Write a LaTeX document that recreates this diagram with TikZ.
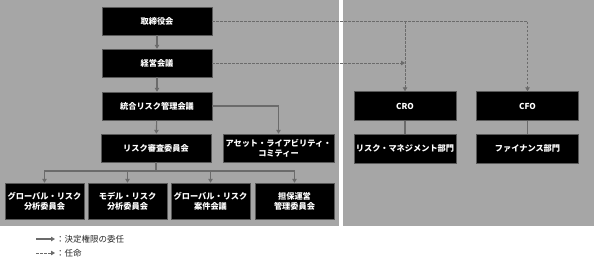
\documentclass[tikz,border=0pt]{standalone}
\usepackage{fontspec}
\setmainfont{Noto Sans CJK JP}
\usetikzlibrary{arrows.meta, positioning}
\definecolor{panelgrey}{HTML}{A6A6A6}
\definecolor{linegrey}{HTML}{6B6B6B}
\definecolor{edgegrey}{HTML}{595959}
\tikzset{
  box/.style={rectangle, draw=edgegrey, fill=black, text=white, align=center,
    minimum width=110pt, minimum height=28pt, inner sep=1pt,
    font=\fontsize{8.2}{10}\selectfont\bfseries},
  boxs/.style={box, minimum width=79pt, minimum height=36pt},
  boxr/.style={box, minimum width=102pt, minimum height=29pt},
  arrow/.style={-{Triangle[length=4pt, width=4.5pt]}, line width=1.1pt, linegrey},
  arrowd/.style={arrow, line width=0.8pt, dash pattern=on 2.5pt off 1.5pt},
  link/.style={line width=1.1pt, linegrey},
  legend/.style={font=\fontsize{8.5}{10}\selectfont, text=black!85, inner sep=0pt},
}
\begin{document}
\begin{tikzpicture}[x=1pt, y=-1pt]
\useasboundingbox (0,0) rectangle (596,265);
% panels
\fill[panelgrey] (0,0) rectangle (339,226);
\fill[panelgrey] (343,0) rectangle (594,226);
% left side
\node[box] (board) at (157,21) {取締役会};
\node[box] (mgmt) at (157,63) {経営会議};
\node[box] (erm) at (157,106) {統合リスク管理会議};
\node[box] (riskcom) at (156,148) {リスク審査委員会};
\node[box, minimum width=111pt] (alco) at (278.5,148) {アセット・ライアビリティ・\\コミティー};
\node[boxs] (grc) at (44.5,201) {グローバル・リスク\\分析委員会};
\node[boxs] (mrc) at (127.5,201) {モデル・リスク\\分析委員会};
\node[boxs] (gcc) at (210.5,201) {グローバル・リスク\\案件会議};
\node[boxs] (cmc) at (294.5,201) {担保運営\\管理委員会};
% right side
\node[boxr] (cro) at (405,106) {CRO};
\node[boxr] (cfo) at (527.5,106) {CFO};
\node[boxr] (rmd) at (405,148.5) {リスク・マネジメント部門};
\node[boxr] (fin) at (527.5,148.5) {ファイナンス部門};
% delegation
\draw[arrow] (board) -- (mgmt);
\draw[arrow] (mgmt) -- (erm);
\draw[arrow] (erm) -- (riskcom);
\draw[arrow] (erm.east) -| (alco.north);
\coordinate (fork) at (riskcom.south |- 0,171);
\draw[link] (riskcom.south) -- (fork);
\foreach \n in {grc, mrc, gcc, cmc}
  \draw[arrow] (fork) -| (\n.north);
% appointment
\draw[arrowd] (board.east) -| (cfo.north);
\draw[arrowd] (board.east -| cro.north) -- (cro.north);
\draw[arrowd] (mgmt.east) -- (mgmt.east -| cro.north);
\draw[link] (cro) -- (rmd);
\draw[link] (cfo) -- (fin);
% legend
\coordinate (la) at (36,239);
\coordinate (lb) at (55,239);
\coordinate (lc) at (36,253);
\coordinate (ld) at (55,253);
\draw[arrow] (la) -- (lb);
\draw[arrowd] (lc) -- (ld);
\node[legend, right=1pt of lb] (leg1) {：決定権限の委任};
\node[legend, right=1pt of ld] (leg2) {：任命};
\end{tikzpicture}
\end{document}
